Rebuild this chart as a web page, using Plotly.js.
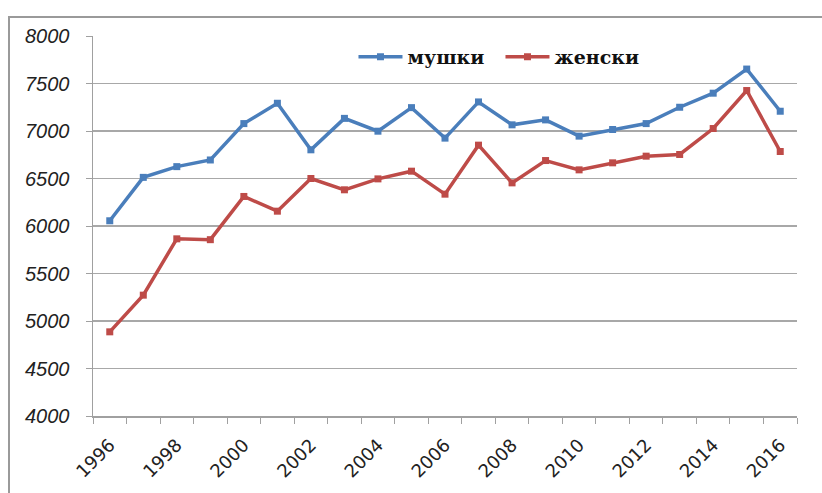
<!DOCTYPE html>
<html>
<head>
<meta charset="utf-8">
<script src="https://cdn.plot.ly/plotly-3.0.1.min.js"></script>
<style>
  html, body { margin: 0; padding: 0; background: #ffffff; }
  #frame { position: absolute; left: 8px; top: 16px; width: 830px; height: 490px;
           border-left: 2px solid #9a9a9a; border-top: 2px solid #9a9a9a; }
  #chart { position: absolute; left: 0; top: 0; width: 822px; height: 493px; }
</style>
</head>
<body>
<div id="frame"></div>
<div id="chart"></div>
<script>
const years = [1996,1997,1998,1999,2000,2001,2002,2003,2004,2005,2006,2007,2008,2009,2010,2011,2012,2013,2014,2015,2016];
const male = [6055,6512,6625,6695,7078,7292,6802,7133,6998,7246,6925,7306,7065,7117,6946,7016,7078,7250,7398,7652,7208];
const female = [4886,5272,5865,5856,6311,6156,6500,6381,6496,6577,6335,6851,6454,6689,6591,6665,6735,6753,7026,7426,6784];
const seriesNames = ['мушки', 'женски'];
const labelYears = [1996,1998,2000,2002,2004,2006,2008,2010,2012,2014,2016];
const boundaries = [1995.5,1996.5,1997.5,1998.5,1999.5,2000.5,2001.5,2002.5,2003.5,2004.5,2005.5,2006.5,2007.5,2008.5,2009.5,2010.5,2011.5,2012.5,2013.5,2014.5,2015.5,2016.5];
const yTicks = [4000,4500,5000,5500,6000,6500,7000,7500,8000];

const traces = [
  { x: years, y: male, name: seriesNames[0], type: 'scatter', mode: 'lines+markers',
    line: { color: '#4a7ebb', width: 3.5 }, marker: { symbol: 'square', size: 7, color: '#4a7ebb' } },
  { x: years, y: female, name: seriesNames[1], type: 'scatter', mode: 'lines+markers',
    line: { color: '#be4b48', width: 3.5 }, marker: { symbol: 'square', size: 7, color: '#be4b48' } }
];

const layout = {
  width: 822, height: 493,
  margin: { l: 93, r: 25, t: 36, b: 77 },
  paper_bgcolor: 'rgba(0,0,0,0)', plot_bgcolor: 'rgba(0,0,0,0)',
  showlegend: true,
  legend: { orientation: 'h', x: 0.37, y: 0.945, xanchor: 'left', yanchor: 'middle',
    font: { family: '"DejaVu Serif", serif', size: 19, color: '#111', weight: 'bold' },
    bgcolor: 'rgba(0,0,0,0)', itemwidth: 44, entrywidth: 88, tracegroupgap: 0 },
  xaxis: {
    type: 'linear', range: [1995.5, 2016.5],
    tickmode: 'array', tickvals: labelYears, ticktext: labelYears.map(String),
    ticks: '', tickangle: -45, ticklabelstandoff: 10,
    tickfont: { family: '"DejaVu Sans", sans-serif', size: 18, color: '#222' },
    showgrid: false, zeroline: false,
    showline: true, linecolor: '#a0a0a0', linewidth: 1.5,
    minor: { tickmode: 'array', tickvals: boundaries, ticks: 'outside', ticklen: 6, tickcolor: '#a0a0a0', tickwidth: 1, showgrid: false }
  },
  yaxis: {
    range: [4000, 8000], tickmode: 'array', tickvals: yTicks,
    ticks: 'outside', ticklen: 6, tickcolor: '#a0a0a0',
    tickfont: { family: '"Liberation Sans", sans-serif', size: 20, color: '#222', style: 'italic' },
    ticklabelstandoff: 12,
    showgrid: true, gridcolor: '#a8a8a8', gridwidth: 1.5,
    zeroline: false, showline: true, linecolor: '#a0a0a0', linewidth: 1.5
  }
};

Plotly.newPlot('chart', traces, layout, { displayModeBar: false, staticPlot: true });
</script>
</body>
</html>
